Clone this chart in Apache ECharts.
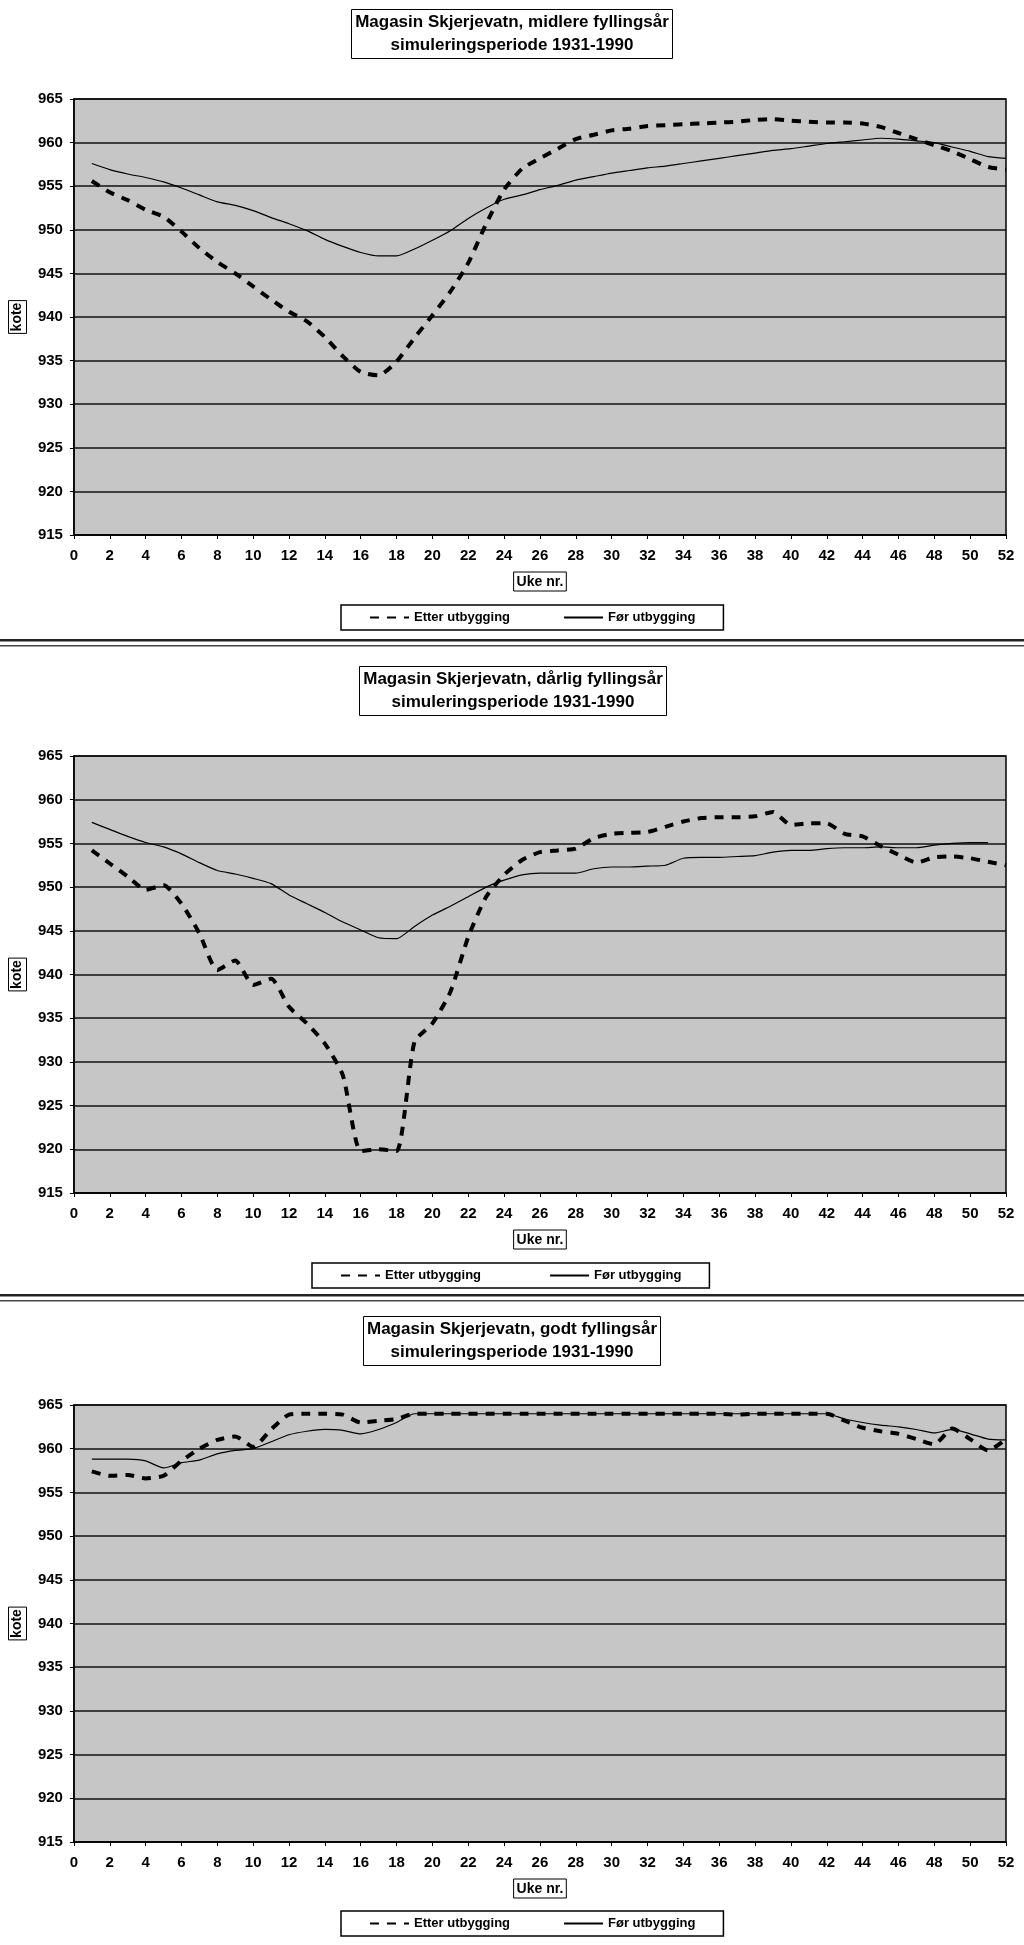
<!DOCTYPE html>
<html>
<head>
<meta charset="utf-8">
<title>Magasin Skjerjevatn</title>
<script src="https://cdn.jsdelivr.net/npm/echarts@6/dist/echarts.min.js"></script>
<style>
  html, body { margin: 0; padding: 0; background: #fff; }
  #main { width: 1024px; height: 1945px; }
</style>
</head>
<body>
<div id="main"></div>
<script>
// uke nr. (x)
const weeks = [1, 2, 3, 4, 5, 6, 7, 8, 9, 10, 11, 12, 13, 14, 15, 16, 17, 18, 19, 20, 21, 22, 23, 24, 25, 26,
  27, 28, 29, 30, 31, 32, 33, 34, 35, 36, 37, 38, 39, 40, 41, 42, 43, 44, 45, 46, 47, 48, 49, 50, 51, 52];
const yTicks = [915, 920, 925, 930, 935, 940, 945, 950, 955, 960, 965];
const seriesNames = ["Etter utbygging", "Før utbygging"];

// midlere fyllingsår
const etterMidlere = [955.6, 954.3, 953.4, 952.3, 951.5, 949.8, 947.9, 946.3, 945.0, 943.5,
  942.0, 940.6, 939.5, 937.7, 935.5, 933.7, 933.3, 934.9, 937.6, 940.2,
  942.9, 946.2, 950.7, 954.6, 957.0, 958.2, 959.3, 960.4, 960.9, 961.4,
  961.6, 961.9, 962.0, 962.1, 962.2, 962.3, 962.4, 962.6, 962.7, 962.5,
  962.4, 962.3, 962.3, 962.2, 961.8, 961.1, 960.4, 959.7, 959.0, 958.1, 957.2, 956.9];
const forMidlere = [957.6, 956.9, 956.4, 956.0, 955.5, 954.8, 954.0, 953.2, 952.8, 952.2,
  951.4, 950.7, 949.9, 948.9, 948.1, 947.4, 947.0, 947.0, 947.8, 948.8,
  949.9, 951.3, 952.5, 953.5, 954.0, 954.6, 955.1, 955.7, 956.1, 956.5,
  956.8, 957.1, 957.3, 957.6, 957.9, 958.2, 958.5, 958.8, 959.1, 959.3,
  959.6, 959.9, 960.1, 960.3, 960.5, 960.4, 960.2, 960.0, 959.5, 959.0, 958.4, 958.2];

// dårlig fyllingsår
const etterDarlig = [954.2, 952.7, 951.2, 949.7, 950.2, 948.1, 944.7, 940.5, 941.6, 938.8,
  939.5, 936.3, 934.4, 932.1, 928.5, 919.8, 920.0, 919.8, 932.3, 934.4,
  938.0, 944.3, 948.9, 951.4, 953.1, 954.0, 954.2, 954.4, 955.6, 956.1,
  956.2, 956.3, 956.9, 957.5, 957.9, 958.0, 958.0, 958.1, 958.6, 957.1,
  957.3, 957.3, 956.1, 955.8, 954.7, 953.7, 952.8, 953.4, 953.5, 953.3, 952.9, 952.5];
const forDarlig = [957.4, 956.6, 955.8, 955.1, 954.6, 953.8, 952.8, 951.9, 951.5, 951.0,
  950.4, 949.1, 948.1, 947.1, 946.0, 945.1, 944.2, 944.1, 945.5, 946.8,
  947.8, 948.9, 950.0, 950.8, 951.4, 951.6, 951.6, 951.6, 952.1, 952.3,
  952.3, 952.4, 952.5, 953.3, 953.4, 953.4, 953.5, 953.6, 954.0, 954.2,
  954.2, 954.4, 954.5, 954.5, 954.6, 954.5, 954.5, 954.8, 955.0, 955.1, 955.1, null];

// godt fyllingsår
const etterGodt = [957.4, 956.9, 957.0, 956.6, 956.9, 958.6, 960.0, 961.0, 961.4, 960.2,
  962.2, 963.9, 964.0, 964.0, 963.9, 963.0, 963.2, 963.4, 964.0, 964.0,
  964.0, 964.0, 964.0, 964.0, 964.0, 964.0, 964.0, 964.0, 964.0, 964.0,
  964.0, 964.0, 964.0, 964.0, 964.0, 964.0, 963.9, 964.0, 964.0, 964.0,
  964.0, 964.0, 963.2, 962.4, 962.0, 961.7, 961.1, 960.5, 962.3, 961.1, 959.8, 961.1];
const forGodt = [958.8, 958.8, 958.8, 958.6, 957.8, 958.4, 958.7, 959.4, 959.8, 960.0,
  960.8, 961.6, 962.0, 962.2, 962.1, 961.7, 962.2, 963.0, 964.0, 964.0,
  964.0, 964.0, 964.0, 964.0, 964.0, 964.0, 964.0, 964.0, 964.0, 964.0,
  964.0, 964.0, 964.0, 964.0, 964.0, 964.0, 964.0, 964.0, 964.0, 964.0,
  964.0, 964.0, 963.4, 963.0, 962.7, 962.5, 962.2, 961.8, 962.2, 961.7, 961.1, 961.0];

const titles = [
  "Magasin Skjerjevatn, midlere fyllingsår\nsimuleringsperiode 1931-1990",
  "Magasin Skjerjevatn, dårlig fyllingsår\nsimuleringsperiode 1931-1990",
  "Magasin Skjerjevatn, godt fyllingsår\nsimuleringsperiode 1931-1990",
];
const etterList = [etterMidlere, etterDarlig, etterGodt];
const forList = [forMidlere, forDarlig, forGodt];

// plassering av de tre panelene
const panels = [
  { titleTop: 9, titleX: 508, gridTop: 99, gridHeight: 436, legendTop: 605, legendLeft: 341, legendGap: 53 },
  { titleTop: 666, titleX: 509, gridTop: 756, gridHeight: 437, legendTop: 1263, legendLeft: 312, legendGap: 68 },
  { titleTop: 1316, titleX: 508, gridTop: 1405, gridHeight: 437, legendTop: 1911, legendLeft: 341, legendGap: 53 },
];

const FONT = "'Liberation Sans', Arial, sans-serif";

function toPairs(xs, ys) {
  let out = [];
  for (let i = 0; i < xs.length; i++) {
    out.push([xs[i], ys[i]]);
  }
  return out;
}

let myChart = echarts.init(document.getElementById("main"), null, { renderer: "canvas" });

let title = [], grid = [], xAxis = [], yAxis = [], legend = [], series = [];
for (let i = 0; i < panels.length; i++) {
  const p = panels[i];
  title.push({
    text: titles[i],
    left: p.titleX,
    top: p.titleTop,
    textAlign: "center",
    padding: [2, 4, 2, 4],
    borderColor: "#000",
    borderWidth: 1,
    backgroundColor: "#fff",
    textStyle: { fontFamily: FONT, fontWeight: "bold", fontSize: 17, lineHeight: 23, color: "#000" },
  });
  grid.push({
    left: 63,
    width: 943,
    top: p.gridTop,
    height: p.gridHeight,
    show: true,
    backgroundColor: "#c6c6c6",
    borderColor: "#000",
    borderWidth: 1.5,
  });
  xAxis.push({
    gridIndex: i,
    type: "value",
    min: 0,
    max: 52,
    interval: 2,
    name: "Uke nr.",
    nameLocation: "middle",
    nameGap: 37,
    nameTextStyle: {
      fontFamily: FONT, fontWeight: "bold", fontSize: 14, color: "#000",
      borderColor: "#000", borderWidth: 1, padding: [3, 3, 2, 3],
    },
    axisLine: { lineStyle: { color: "#000", width: 1.5 } },
    axisTick: { length: 4, lineStyle: { color: "#000" } },
    axisLabel: { margin: 13, fontFamily: FONT, fontWeight: "bold", fontSize: 15, color: "#000" },
    splitLine: { show: false },
  });
  yAxis.push({
    gridIndex: i,
    type: "value",
    min: yTicks[0],
    max: yTicks[yTicks.length - 1],
    interval: 5,
    name: "kote",
    nameLocation: "middle",
    nameRotate: 90,
    nameGap: 42,
    nameTextStyle: {
      fontFamily: FONT, fontWeight: "bold", fontSize: 14, color: "#000",
      borderColor: "#000", borderWidth: 1, padding: [2, 2, 2, 2],
    },
    axisLine: { show: true, lineStyle: { color: "#000", width: 1.5 } },
    axisTick: { show: true, length: 4, lineStyle: { color: "#000" } },
    axisLabel: { margin: 11, fontFamily: FONT, fontWeight: "bold", fontSize: 15, color: "#000" },
    splitLine: { lineStyle: { color: "#111", width: 1.5 } },
  });
  legend.push({
    data: seriesNames,
    left: p.legendLeft,
    top: p.legendTop,
    itemWidth: 39,
    itemHeight: 14,
    itemGap: p.legendGap,
    padding: [6, 28, 6, 28],
    borderColor: "#000",
    borderWidth: 1.5,
    backgroundColor: "#fff",
    selectedMode: false,
    // bare linja i ikonet, ingen sirkel
    itemStyle: { opacity: 0 },
    textStyle: { fontFamily: FONT, fontWeight: "bold", fontSize: 13, color: "#000" },
  });
  series.push({
    name: seriesNames[0],
    type: "line",
    xAxisIndex: i,
    yAxisIndex: i,
    data: toPairs(weeks, etterList[i]),
    symbol: "none",
    smooth: 0.2,
    color: "#000",
    lineStyle: { color: "#000", width: 4, type: [9, 8], cap: "butt" },
    z: 3,
  });
  series.push({
    name: seriesNames[1],
    type: "line",
    xAxisIndex: i,
    yAxisIndex: i,
    data: toPairs(weeks, forList[i]),
    symbol: "none",
    smooth: 0.2,
    color: "#000",
    lineStyle: { color: "#000", width: 1.2 },
    z: 4,
  });
}

// doble skillelinjer mellom figurene
const graphic = [
  { type: "rect", shape: { x: 0, y: 639, width: 1024, height: 2.5 }, style: { fill: "#222" } },
  { type: "rect", shape: { x: 0, y: 645, width: 1024, height: 1.5 }, style: { fill: "#444" } },
  { type: "rect", shape: { x: 0, y: 1294, width: 1024, height: 2.5 }, style: { fill: "#222" } },
  { type: "rect", shape: { x: 0, y: 1300, width: 1024, height: 1.5 }, style: { fill: "#444" } },
];

let option = {
  animation: false,
  backgroundColor: "#fff",
  title: title,
  grid: grid,
  xAxis: xAxis,
  yAxis: yAxis,
  legend: legend,
  series: series,
  graphic: graphic,
};

// tegn figuren
myChart.setOption(option);
</script>
</body>
</html>
